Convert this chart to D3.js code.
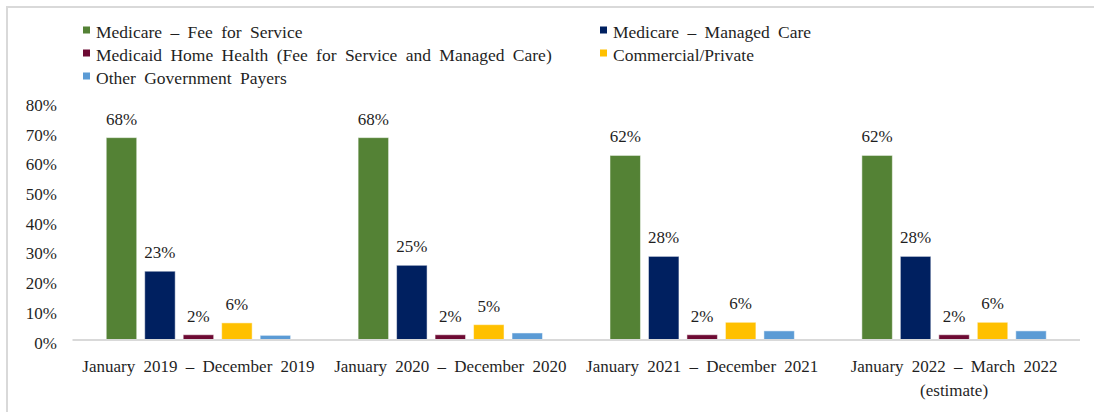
<!DOCTYPE html>
<html>
<head>
<meta charset="utf-8">
<script src="https://cdn.jsdelivr.net/npm/d3@7"></script>
<style>
  html, body { margin: 0; padding: 0; background: #fff; }
  svg { display: block; }
  svg text { font-family: 'Liberation Serif', 'DejaVu Serif', serif; fill: #1f1f1f; }
</style>
</head>
<body>
<svg id="chart" width="1094" height="412"></svg>
<script>
const categories = [
  ["January 2019 – December 2019"],
  ["January 2020 – December 2020"],
  ["January 2021 – December 2021"],
  ["January 2022 – March 2022", "(estimate)"]
];
const seriesNames = [
  "Medicare – Fee for Service",
  "Medicare – Managed Care",
  "Medicaid Home Health (Fee for Service and Managed Care)",
  "Commercial/Private",
  "Other Government Payers"
];
const seriesColors = ["#548235", "#002060", "#6d0a33", "#ffc000", "#5b9bd5"];
const medicareFFS   = [68, 68, 62, 62];
const medicareMC    = [23, 25, 28, 28];
const medicaidHH    = [1.6, 1.6, 1.6, 1.6];
const commercial    = [5.6, 5, 5.8, 5.8];
const otherGov      = [1.4, 2.2, 2.9, 2.9];
const seriesLabels  = [
  ["68%", "68%", "62%", "62%"],
  ["23%", "25%", "28%", "28%"],
  ["2%", "2%", "2%", "2%"],
  ["6%", "5%", "6%", "6%"],
  null
];
const yTicks = [0, 10, 20, 30, 40, 50, 60, 70, 80];

const seriesValues = [medicareFFS, medicareMC, medicaidHH, commercial, otherGov];

const svg = d3.select("#chart");
const FS = 17;
const LFS = 17.5;
const FONT = "'Liberation Serif', 'DejaVu Serif', serif";

// frame lines (top & left)
svg.append("line").attr("x1", 6).attr("x2", 1094).attr("y1", 7).attr("y2", 7)
  .attr("stroke", "#d9d9d9").attr("stroke-width", 2);
svg.append("line").attr("x1", 7).attr("x2", 7).attr("y1", 6).attr("y2", 412)
  .attr("stroke", "#d9d9d9").attr("stroke-width", 2);

const y = d3.scaleLinear().domain([0, 80]).range([339.5, 102]);
const x0 = d3.scaleBand().domain(d3.range(categories.length)).range([72.5, 1080]);
const x1 = d3.scaleBand().domain(d3.range(seriesNames.length))
  .range([0, x0.bandwidth()]).paddingInner(0.208).paddingOuter(0.877);

// y axis labels
const yAxis = d3.axisLeft(y).tickValues(yTicks).tickFormat(d => d + "%").tickSize(0).tickPadding(0);
const yg = svg.append("g").attr("transform", "translate(57,0)").call(yAxis)
  .attr("font-family", FONT).attr("font-size", FS);
yg.select(".domain").remove();
yg.selectAll("text").style("font-family", FONT).style("font-size", FS + "px")
  .attr("fill", "#1f1f1f").attr("dy", "0.5em");

// bars
seriesValues.forEach((vals, si) => {
  const g = svg.append("g");
  g.selectAll("rect").data(vals).join("rect")
    .attr("x", (d, i) => x0(i) + x1(si))
    .attr("width", x1.bandwidth())
    .attr("y", d => y(d))
    .attr("height", d => y(0) - y(d))
    .attr("fill", seriesColors[si])
    .attr("stroke", "#ffffff").attr("stroke-opacity", 0.5).attr("stroke-width", 1);
  if (seriesLabels[si]) {
    g.selectAll("text").data(vals).join("text")
      .attr("x", (d, i) => x0(i) + x1(si) + x1.bandwidth() / 2)
      .attr("y", d => y(d) - 13)
      .attr("text-anchor", "middle")
      .style("font-family", FONT).style("font-size", FS + "px")
      .text((d, i) => seriesLabels[si][i]);
  }
});

// baseline
svg.append("line").attr("x1", 72.5).attr("x2", 1080).attr("y1", y(0) + 0.5).attr("y2", y(0) + 0.5)
  .attr("stroke", "#d9d9d9").attr("stroke-width", 2);

// category labels
categories.forEach((lines, i) => {
  const t = svg.append("text")
    .attr("x", x0(i) + x0.bandwidth() / 2)
    .attr("y", 372)
    .attr("text-anchor", "middle")
    .style("font-family", FONT).style("font-size", FS + "px")
    .style("word-spacing", "4px");
  lines.forEach((l, k) => {
    t.append("tspan").attr("x", x0(i) + x0.bandwidth() / 2).attr("dy", k === 0 ? 0 : 23.5).text(l);
  });
});

// legend
const legendPos = [
  [83, 32], [600, 32], [83, 55], [600, 55], [83, 78]
];
seriesNames.forEach((name, i) => {
  const [lx, ly] = legendPos[i];
  svg.append("rect").attr("x", lx).attr("y", ly - 5.5).attr("width", 7).attr("height", 7)
    .attr("fill", seriesColors[i]);
  svg.append("text").attr("x", lx + 13).attr("y", ly + 5.5)
    .style("font-family", FONT).style("font-size", LFS + "px")
    .style("word-spacing", "4px").text(name);
});
</script>
</body>
</html>
